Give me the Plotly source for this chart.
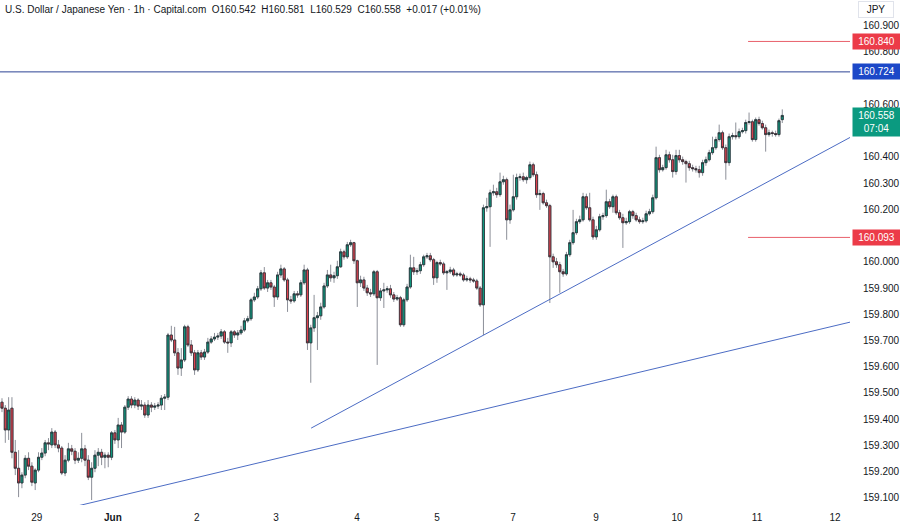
import plotly.graph_objects as go

# ---------------- data ----------------
opens = [159.465,159.442,159.359,159.442,159.274,159.213,159.157,159.187,159.251,159.221,
159.157,159.206,159.255,159.271,159.310,159.302,159.351,159.302,159.290,159.195,
159.244,159.287,159.278,159.244,159.251,159.287,159.244,159.179,159.213,159.263,
159.274,159.255,159.263,159.255,159.348,159.321,159.378,159.351,159.446,159.477,
159.454,159.473,159.450,159.454,159.416,159.454,159.446,159.450,159.454,159.480,
159.484,159.721,159.702,159.653,159.595,159.626,159.752,159.683,159.653,159.588,
159.653,159.637,159.656,159.694,159.706,159.713,159.717,159.733,159.694,159.691,
159.733,159.721,159.729,159.740,159.775,159.783,159.855,159.866,159.897,159.958,
159.900,159.920,159.904,159.866,159.950,159.973,159.931,159.855,159.851,159.878,
159.874,159.920,159.969,159.691,159.748,159.787,159.794,159.828,159.908,159.950,
159.939,159.947,159.981,160.038,160.019,160.065,160.073,160.004,159.920,159.931,
159.900,159.882,159.878,159.962,159.863,159.889,159.893,159.897,159.874,159.858,
159.863,159.760,159.855,159.904,159.977,159.962,159.966,159.989,160.019,160.023,
160.008,159.939,159.997,159.992,159.958,159.962,159.969,159.950,159.954,159.950,
159.931,159.935,159.931,159.927,159.900,159.836,160.206,160.210,160.263,160.267,
160.256,160.305,160.313,160.160,160.198,160.248,160.321,160.324,160.313,160.321,
160.370,160.332,160.256,160.260,160.225,160.214,160.019,160.000,159.989,159.962,
159.954,160.027,160.073,160.111,160.153,160.160,160.248,160.206,160.160,160.095,
160.122,160.172,160.176,160.229,160.210,160.248,160.187,160.168,160.149,160.153,
160.191,160.176,160.160,160.153,160.156,160.183,160.191,160.244,160.397,160.351,
160.359,160.408,160.389,160.344,160.405,160.389,160.382,160.374,160.359,160.355,
160.351,160.340,160.378,160.389,160.416,160.435,160.466,160.492,160.435,160.378,
160.477,160.481,160.477,160.496,160.500,160.531,160.534,160.466,160.542,160.527,
160.511,160.485,160.492,160.489,160.485,160.542]

highs = [159.480,159.454,159.484,159.484,159.321,159.282,159.198,159.263,159.274,159.236,
159.213,159.274,159.290,159.321,159.328,159.366,159.359,159.321,159.298,159.263,
159.310,159.302,159.290,159.274,159.348,159.302,159.263,159.236,159.282,159.290,
159.287,159.274,159.274,159.355,159.359,159.405,159.389,159.454,159.488,159.488,
159.484,159.480,159.473,159.465,159.473,159.465,159.462,159.465,159.492,159.496,
159.729,159.756,159.752,159.671,159.671,159.760,159.760,159.702,159.664,159.664,
159.664,159.668,159.710,159.717,159.729,159.729,159.744,159.740,159.710,159.740,
159.740,159.740,159.756,159.786,159.794,159.863,159.882,159.908,159.969,159.980,
159.931,159.931,159.912,159.962,159.989,159.980,159.939,159.870,159.889,159.889,
159.931,159.989,159.977,159.760,159.874,159.809,159.844,159.920,159.969,159.989,
159.962,160.004,160.050,160.046,160.076,160.084,160.076,160.008,159.947,159.943,
159.912,159.897,159.969,159.969,159.900,159.920,159.908,159.912,159.885,159.874,
159.870,159.863,159.916,160.027,160.019,159.977,160.000,160.027,160.034,160.034,
160.015,160.004,160.008,160.000,159.969,159.981,159.977,159.962,159.962,159.958,
159.947,159.943,159.939,159.935,159.908,160.218,160.244,160.275,160.294,160.282,
160.340,160.328,160.321,160.218,160.332,160.336,160.336,160.340,160.328,160.382,
160.378,160.344,160.275,160.267,160.237,160.221,160.031,160.015,160.000,159.973,
160.038,160.084,160.198,160.164,160.176,160.263,160.260,160.263,160.172,160.137,
160.183,160.187,160.275,160.240,160.256,160.256,160.198,160.183,160.168,160.198,
160.198,160.187,160.172,160.168,160.195,160.202,160.256,160.439,160.408,160.370,
160.427,160.420,160.408,160.427,160.427,160.401,160.389,160.385,160.370,160.366,
160.366,160.389,160.401,160.427,160.477,160.477,160.523,160.500,160.447,160.489,
160.492,160.531,160.508,160.511,160.542,160.569,160.542,160.550,160.553,160.538,
160.523,160.504,160.500,160.500,160.546,160.581]

lows = [159.427,159.310,159.321,159.251,159.187,159.103,159.137,159.175,159.206,159.145,
159.130,159.198,159.244,159.259,159.282,159.290,159.290,159.274,159.187,159.183,
159.236,159.263,159.229,159.233,159.236,159.221,159.168,159.092,159.198,159.221,
159.225,159.213,159.217,159.244,159.306,159.290,159.290,159.344,159.435,159.442,
159.442,159.435,159.435,159.405,159.405,159.427,159.435,159.439,159.435,159.435,
159.473,159.694,159.641,159.569,159.565,159.618,159.675,159.641,159.569,159.580,
159.626,159.626,159.649,159.687,159.698,159.702,159.706,159.687,159.653,159.675,
159.710,159.702,159.721,159.733,159.768,159.775,159.847,159.858,159.889,159.893,
159.885,159.893,159.828,159.855,159.939,159.924,159.809,159.840,159.844,159.863,
159.866,159.912,159.664,159.539,159.733,159.664,159.779,159.821,159.900,159.924,
159.920,159.935,159.977,160.008,160.011,160.057,159.992,159.828,159.904,159.889,
159.870,159.866,159.870,159.607,159.851,159.824,159.882,159.863,159.847,159.851,
159.752,159.752,159.847,159.897,159.950,159.950,159.954,159.981,160.011,160.000,
159.912,159.920,159.985,159.950,159.893,159.954,159.943,159.943,159.943,159.924,
159.924,159.920,159.920,159.893,159.828,159.721,160.191,160.057,160.252,160.244,
160.248,160.294,160.084,160.145,160.191,160.237,160.309,160.305,160.298,160.313,
160.324,160.244,160.198,160.218,160.206,159.843,159.977,159.977,159.882,159.943,
159.947,160.019,160.065,160.103,160.145,160.153,160.198,160.153,160.084,160.084,
160.115,160.160,160.168,160.202,160.187,160.179,160.160,160.053,160.141,160.145,
160.164,160.153,160.145,160.145,160.149,160.176,160.183,160.237,160.340,160.344,
160.351,160.378,160.321,160.332,160.378,160.370,160.302,160.347,160.344,160.340,
160.321,160.328,160.366,160.382,160.408,160.427,160.458,160.427,160.313,160.366,
160.466,160.466,160.469,160.489,160.489,160.523,160.458,160.458,160.519,160.504,
160.420,160.477,160.477,160.477,160.477,160.529]

closes = [159.442,159.359,159.435,159.274,159.213,159.157,159.187,159.251,159.221,159.160,
159.206,159.255,159.271,159.310,159.306,159.351,159.302,159.290,159.195,159.244,
159.287,159.278,159.244,159.251,159.287,159.244,159.179,159.213,159.263,159.274,
159.255,159.263,159.255,159.348,159.321,159.378,159.351,159.446,159.477,159.454,
159.473,159.450,159.454,159.416,159.454,159.446,159.450,159.454,159.480,159.484,
159.721,159.702,159.653,159.595,159.626,159.752,159.683,159.653,159.588,159.653,
159.637,159.656,159.694,159.706,159.713,159.717,159.733,159.694,159.691,159.733,
159.721,159.729,159.740,159.775,159.783,159.855,159.866,159.897,159.958,159.900,
159.920,159.904,159.866,159.950,159.973,159.931,159.855,159.851,159.878,159.874,
159.920,159.969,159.691,159.748,159.787,159.794,159.828,159.908,159.950,159.939,
159.947,159.981,160.038,160.019,160.065,160.073,160.004,159.920,159.931,159.900,
159.882,159.878,159.962,159.863,159.889,159.893,159.897,159.874,159.858,159.863,
159.760,159.855,159.904,159.977,159.962,159.966,159.989,160.019,160.023,160.008,
159.939,159.997,159.992,159.958,159.962,159.969,159.950,159.954,159.950,159.931,
159.935,159.931,159.927,159.900,159.836,160.206,160.210,160.263,160.267,160.256,
160.305,160.313,160.160,160.198,160.248,160.321,160.324,160.313,160.321,160.370,
160.332,160.256,160.260,160.225,160.214,160.019,160.000,159.989,159.962,159.954,
160.027,160.073,160.111,160.153,160.160,160.248,160.206,160.160,160.095,160.122,
160.172,160.176,160.229,160.210,160.248,160.187,160.168,160.149,160.153,160.191,
160.176,160.160,160.153,160.156,160.183,160.191,160.244,160.397,160.351,160.359,
160.408,160.389,160.344,160.405,160.389,160.382,160.374,160.359,160.355,160.351,
160.340,160.378,160.389,160.416,160.435,160.466,160.492,160.435,160.378,160.477,
160.481,160.477,160.496,160.500,160.531,160.534,160.466,160.542,160.527,160.511,
160.485,160.492,160.489,160.485,160.538,160.558]

bar_index = list(range(len(closes)))

# day labels on the time axis (bar index of the day start)
day_tick_bars = [10.5, 33.4, 58.7, 82.5, 106.9, 131.0, 153.9, 178.9, 203.3, 227.4, 250.9]
day_tick_labels = ["29", "<b>Jun</b>", "2", "3", "4", "5", "7", "9", "10", "11", "12"]

# price-scale labels that are not hidden behind the level boxes
price_ticks = [159.1, 159.2, 159.3, 159.4, 159.5, 159.6, 159.7, 159.8, 159.9, 160.0,
               160.2, 160.3, 160.4, 160.6, 160.8, 160.9]

# horizontal levels and trendlines (bar index, price)
level_blue = 160.724
level_red_high = 160.840
level_red_low = 160.093
red_levels_start_bar = 224.7
trend_upper_bars = [93.1, 255.4]
trend_upper_prices = [159.366, 160.474]
trend_lower_bars = [22.6, 255.4]
trend_lower_prices = [159.069, 159.770]

last_price = 160.558
countdown = "07:04"

X_RANGE = [-0.6, 255.4]
Y_RANGE = [159.073, 160.998]

UP = "#0e9a80"
DOWN = "#e0424f"
WICK = "#8c8f98"
BORDER = "#2a2e35"
TEXT = "#131722"

body_hi = [max(o, c) for o, c in zip(opens, closes)]
body_lo = [min(o, c) for o, c in zip(opens, closes)]

fig = go.Figure()
# wicks
fig.add_trace(go.Candlestick(
    x=bar_index, open=opens, high=highs, low=lows, close=closes,
    increasing=dict(line=dict(color=WICK, width=1), fillcolor=UP),
    decreasing=dict(line=dict(color=WICK, width=1), fillcolor=DOWN),
    whiskerwidth=0, hoverinfo="skip", showlegend=False))
# bodies with dark outlines
fig.add_trace(go.Candlestick(
    x=bar_index, open=opens, high=body_hi, low=body_lo, close=closes,
    increasing=dict(line=dict(color=BORDER, width=0.8), fillcolor=UP),
    decreasing=dict(line=dict(color=BORDER, width=0.8), fillcolor=DOWN),
    whiskerwidth=0, hoverinfo="skip", showlegend=False))

# trendlines
for bx, py in ((trend_upper_bars, trend_upper_prices), (trend_lower_bars, trend_lower_prices)):
    fig.add_trace(go.Scatter(x=bx, y=py, mode="lines",
                             line=dict(color="#4c6cc4", width=1),
                             hoverinfo="skip", showlegend=False))

shapes = [
    dict(type="line", xref="paper", yref="y", x0=0, x1=1, y0=level_blue, y1=level_blue,
         line=dict(color="#2c4394", width=1)),
    dict(type="line", xref="x", yref="y", x0=red_levels_start_bar, x1=X_RANGE[1],
         y0=level_red_high, y1=level_red_high, line=dict(color="#e8606b", width=1)),
    dict(type="line", xref="x", yref="y", x0=red_levels_start_bar, x1=X_RANGE[1],
         y0=level_red_low, y1=level_red_low, line=dict(color="#e8606b", width=1)),
]

def price_box(y, text, bg, yanchor="middle", yshift=0):
    return dict(xref="paper", yref="y", x=1, y=y, xanchor="left", yanchor=yanchor,
                xshift=2, yshift=yshift, text=text, showarrow=False, bgcolor=bg,
                font=dict(color="white", size=10, family="Liberation Sans"),
                width=43, align="center", borderpad=2)

annotations = [
    price_box(level_red_high, f"{level_red_high:.3f}", "#ec3b48"),
    price_box(level_blue, f"{level_blue:.3f}", "#1c48c8"),
    price_box(last_price, f"{last_price:.3f}<br>{countdown}", "#0b9a80", yanchor="top", yshift=8),
    price_box(level_red_low, f"{level_red_low:.3f}", "#ec3b48"),
    dict(xref="paper", yref="paper", x=0, y=1, xanchor="left", yanchor="top",
         xshift=3, yshift=-2, showarrow=False,
         text="U.S. Dollar / Japanese Yen · 1h · Capital.com\u00a0\u00a0O160.542\u00a0\u00a0H160.581"
              "\u00a0\u00a0L160.529\u00a0\u00a0C160.558\u00a0\u00a0+0.017 (+0.01%)",
         font=dict(size=10, color=TEXT, family="Liberation Sans")),
    dict(xref="paper", yref="paper", x=1, y=1, xanchor="left", yanchor="top",
         xshift=8, yshift=-1, showarrow=False, text="JPY",
         font=dict(size=10, color=TEXT, family="Liberation Sans"),
         bordercolor="#e0e3eb", borderwidth=1, borderpad=2, width=30),
]

fig.update_layout(
    width=900, height=525,
    margin=dict(l=0, r=50, t=0, b=20),
    paper_bgcolor="white", plot_bgcolor="white",
    boxgap=0.1,
    hovermode=False,
    shapes=shapes, annotations=annotations,
    font=dict(family="Liberation Sans", size=10, color=TEXT),
    xaxis=dict(range=X_RANGE, showgrid=False, zeroline=False, showline=False,
               rangeslider=dict(visible=False), tickmode="array",
               tickvals=day_tick_bars, ticktext=day_tick_labels,
               ticks="outside", ticklen=3, tickcolor="rgba(0,0,0,0)",
               tickfont=dict(size=10, color=TEXT)),
    yaxis=dict(range=Y_RANGE, side="right", showgrid=False, zeroline=False, showline=False,
               tickmode="array", tickvals=price_ticks,
               ticktext=[f"{t:.3f}" for t in price_ticks],
               ticks="outside", ticklen=10, tickcolor="rgba(0,0,0,0)",
               tickfont=dict(size=10, color=TEXT)),
)

fig.write_html("out.html")
